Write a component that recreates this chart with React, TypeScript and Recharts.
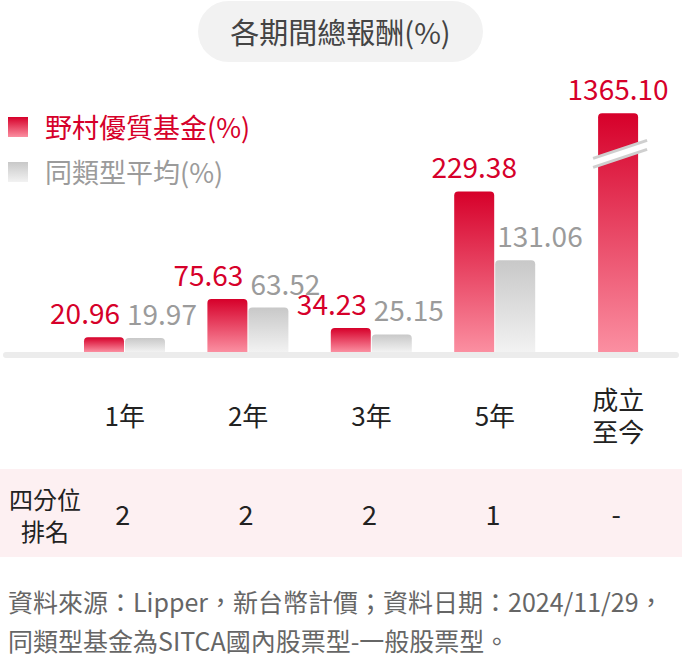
import React from "react";
import { BarChart, Bar, XAxis, YAxis, LabelList } from "recharts";

const periods = ["1年", "2年", "3年", "5年", "成立\n至今"];
const fundReturns = [20.96, 75.63, 34.23, 229.38, 1365.1];
const peerReturns: (number | null)[] = [19.97, 63.52, 25.15, 131.06, null];
const quartileRanks = ["2", "2", "2", "1", "-"];

const FUND_NAME = "野村優質基金(%)";
const PEER_NAME = "同類型平均(%)";

// y scale: bars taller than BREAK_AT get cut with a break mark
const AXIS_MAX = 350;
const BREAK_AT = 341;

const W = 682;
const H = 662;
const MARGIN = { top: 107, right: 2, left: 63, bottom: 250 };
const X_AXIS_H = 60;
const PLOT_H = H - MARGIN.top - MARGIN.bottom - X_AXIS_H;
const PX_PER_UNIT = PLOT_H / AXIS_MAX;

const FONT = '"Noto Sans CJK TC", "Noto Sans", sans-serif';
const RED = "#d6002a";
const GREY_TEXT = "#9b9b9b";
const BAR_GAP = 1;

const data = periods.map((p, i) => ({
  period: p,
  fund: fundReturns[i],
  fundBar: Math.min(fundReturns[i], BREAK_AT),
  peer: peerReturns[i],
  rank: quartileRanks[i],
}));

function topRoundedPath(x: number, y: number, w: number, h: number, r: number) {
  const rr = Math.min(r, h, w / 2);
  return `M${x},${y + h} L${x},${y + rr} Q${x},${y} ${x + rr},${y} L${x + w - rr},${y} Q${x + w},${y} ${x + w},${y + rr} L${x + w},${y + h} Z`;
}

function FundShape(props: any) {
  const { y, width, height, fill, payload } = props;
  let x = props.x;
  if (payload.peer == null) x += (width + BAR_GAP) / 2;
  if (!height || height <= 0) return null;
  const broken = payload.fund > BREAK_AT;
  return (
    <g>
      <path d={topRoundedPath(x, y, width, height, 4)} fill={fill} />
      {broken && (
        <g>
          <polygon
            points={`${x - 5},${y + 45} ${x + width + 9},${y + 27} ${x + width + 9},${y + 36} ${x - 5},${y + 54}`}
            fill="#fff"
          />
          <line x1={x - 5} y1={y + 45} x2={x + width + 9} y2={y + 27} stroke="#cfcfcf" strokeWidth={3} />
          <line x1={x - 5} y1={y + 54} x2={x + width + 9} y2={y + 36} stroke="#cfcfcf" strokeWidth={3} />
        </g>
      )}
    </g>
  );
}

function PeerShape(props: any) {
  const { x, y, width, height, fill } = props;
  if (!height || height <= 0) return null;
  return <path d={topRoundedPath(x, y, width, height, 4)} fill={fill} />;
}

function FundLabel(props: any) {
  const { x, y, width, value, index } = props;
  const row = data[index];
  let tx = x + width / 2;
  let anchor: "middle" | "end" = "middle";
  if (row.peer == null) {
    tx += (width + BAR_GAP) / 2;
  } else if ((row.fund - row.peer) * PX_PER_UNIT < 30) {
    tx = x + width - 4;
    anchor = "end";
  }
  return (
    <text x={tx} y={y - 13} textAnchor={anchor} fill={RED} fontSize={28} fontFamily={FONT}>
      {Number(value).toFixed(2)}
    </text>
  );
}

function PeerLabel(props: any) {
  const { x, y, value } = props;
  if (value == null) return null;
  return (
    <text x={x + 2} y={y - 13} textAnchor="start" fill={GREY_TEXT} fontSize={28} fontFamily={FONT}>
      {Number(value).toFixed(2)}
    </text>
  );
}

function PeriodTick(props: any) {
  const { x, payload } = props;
  const lines = String(payload.value).split("\n");
  const lh = 32;
  const cy = 417;
  const rank = data[payload.index]?.rank;
  return (
    <g>
      <text textAnchor="middle" fill="#222" fontSize={26} fontFamily={FONT}>
        {lines.map((l, i) => (
          <tspan key={i} x={x} y={cy + (i - (lines.length - 1) / 2) * lh} dy="0.35em">
            {l}
          </tspan>
        ))}
      </text>
      <text x={x - 2} y={516} dy="0.35em" textAnchor="middle" fill="#222" fontSize={27} fontFamily={FONT}>
        {rank}
      </text>
    </g>
  );
}

function LegendItem({ grad, label, color, top }: { grad: string; label: string; color: string; top: number }) {
  return (
    <div style={{ position: "absolute", left: 8, top, display: "flex", alignItems: "center", height: 24 }}>
      <div style={{ width: 20, height: 20, background: grad }} />
      <span style={{ marginLeft: 17, fontSize: 27, color, lineHeight: "24px", whiteSpace: "nowrap" }}>{label}</span>
    </div>
  );
}

export default function App() {
  return (
    <div
      style={{
        position: "absolute",
        left: 0,
        top: 0,
        width: W,
        height: H,
        background: "#fff",
        fontFamily: FONT,
        overflow: "hidden",
      }}
    >
      {/* title pill */}
      <div
        style={{
          position: "absolute",
          left: 198,
          top: 1,
          width: 285,
          height: 61,
          borderRadius: 31,
          background: "#f2f2f2",
          color: "#444",
          fontSize: 29,
          lineHeight: "61px",
          textAlign: "center",
        }}
      >
        各期間總報酬(%)
      </div>

      <LegendItem grad={`linear-gradient(${RED}, #fb8fa1)`} label={FUND_NAME} color={RED} top={115} />
      <LegendItem grad="linear-gradient(#c8c8c8, #f2f2f2)" label={PEER_NAME} color={GREY_TEXT} top={160} />

      {/* baseline */}
      <div
        style={{
          position: "absolute",
          left: 3,
          top: 352,
          width: 676,
          height: 6,
          borderRadius: 3,
          background: "#ececec",
        }}
      />

      {/* quartile row background */}
      <div style={{ position: "absolute", left: 0, top: 469, width: W, height: 88, background: "#fdf0f2" }} />
      <div
        style={{
          position: "absolute",
          left: 0,
          top: 483,
          width: 90,
          textAlign: "center",
          fontSize: 24,
          lineHeight: "32px",
          color: "#222",
        }}
      >
        四分位
        <br />
        排名
      </div>

      <div style={{ position: "absolute", left: 0, top: 0 }}>
        <BarChart width={W} height={H} data={data} margin={MARGIN} barSize={40} barGap={BAR_GAP}>
          <defs>
            <linearGradient id="fundGrad" x1="0" y1="0" x2="0" y2="1">
              <stop offset="0%" stopColor="#d6002a" />
              <stop offset="100%" stopColor="#fb8fa1" />
            </linearGradient>
            <linearGradient id="peerGrad" x1="0" y1="0" x2="0" y2="1">
              <stop offset="0%" stopColor="#c8c8c8" />
              <stop offset="100%" stopColor="#f2f2f2" />
            </linearGradient>
          </defs>
          <XAxis
            dataKey="period"
            height={X_AXIS_H}
            axisLine={false}
            tickLine={false}
            interval={0}
            tick={<PeriodTick />}
          />
          <YAxis hide domain={[0, AXIS_MAX]} />
          <Bar dataKey="fundBar" name={FUND_NAME} fill="url(#fundGrad)" shape={<FundShape />} isAnimationActive={false}>
            <LabelList dataKey="fund" content={<FundLabel />} />
          </Bar>
          <Bar dataKey="peer" name={PEER_NAME} fill="url(#peerGrad)" shape={<PeerShape />} isAnimationActive={false}>
            <LabelList dataKey="peer" content={<PeerLabel />} />
          </Bar>
        </BarChart>
      </div>

      {/* footnote */}
      <div
        style={{
          position: "absolute",
          left: 8,
          top: 582,
          fontSize: 25,
          lineHeight: "39px",
          color: "#666",
          whiteSpace: "nowrap",
        }}
      >
        資料來源：Lipper，新台幣計價；資料日期：2024/11/29，
        <br />
        同類型基金為SITCA國內股票型-一般股票型。
      </div>
    </div>
  );
}
